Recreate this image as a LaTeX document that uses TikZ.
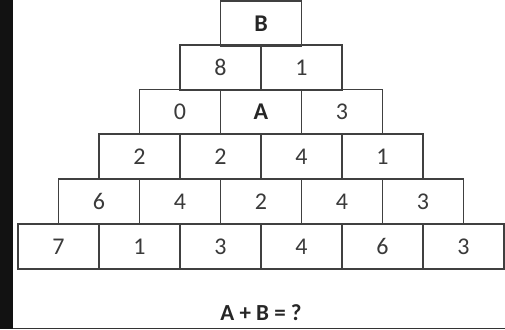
\documentclass[tikz,border=0pt]{standalone}
\usepackage{fontspec}
\setmainfont{Carlito}
\definecolor{edge}{HTML}{404040}
\definecolor{txt}{HTML}{3A3A3A}
\begin{document}
\begin{tikzpicture}[x=1pt,y=-1pt,
  cell/.style={draw=edge,line width=1.6pt,minimum width=81pt,minimum height=45pt,inner sep=0pt,outer sep=0pt,anchor=north west,text=txt,font=\fontsize{24}{24}\selectfont},
  bcell/.style={cell,font=\fontsize{24}{24}\selectfont\bfseries,text=black!85}]
\useasboundingbox (0,0) rectangle (505,329);
\fill[white] (0,0) rectangle (505,329);
\fill[black!93] (0,0) rectangle (13,329);
\fill[black!80] (13,327.5) rectangle (505,329);
% row 1
\node[bcell] (b) at (220.5,0.8) {B};
% row 2
\node[cell] (r2a) at (180,45) {8};
\node[cell] (r2b) at (261,45) {1};
% row 3
\node[cell] (r3a) at (139.5,89.5) {0};
\node[bcell] (r3b) at (220.5,89.5) {A};
\node[cell] (r3c) at (301.5,89.5) {3};
% row 4
\node[cell] (r4a) at (99,134) {2};
\node[cell] (r4b) at (180,134) {2};
\node[cell] (r4c) at (261,134) {4};
\node[cell] (r4d) at (342,134) {1};
% row 5
\node[cell] (r5a) at (58.5,179) {6};
\node[cell] (r5b) at (139.5,179) {4};
\node[cell] (r5c) at (220.5,179) {2};
\node[cell] (r5d) at (301.5,179) {4};
\node[cell] (r5e) at (382.5,179) {3};
% row 6
\node[cell] (r6a) at (18,224) {7};
\node[cell] (r6b) at (99,224) {1};
\node[cell] (r6c) at (180,224) {3};
\node[cell] (r6d) at (261,224) {4};
\node[cell] (r6e) at (342,224) {6};
\node[cell] (r6f) at (423,224) {3};
\node[font=\fontsize{23}{23}\selectfont\bfseries,text=black!85] (q) at (261,313) {A + B = ?};
\end{tikzpicture}
\end{document}
